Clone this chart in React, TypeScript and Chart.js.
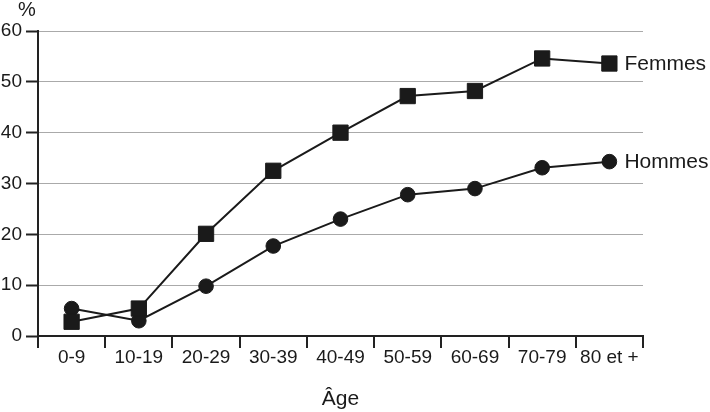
import React, { useEffect, useRef } from "react";
import { Chart, registerables } from "chart.js";

Chart.register(...registerables);

const categories = ["0-9", "10-19", "20-29", "30-39", "40-49", "50-59", "60-69", "70-79", "80 et +"];
const femmes = [2.8, 5.4, 20.1, 32.5, 40.0, 47.2, 48.2, 54.6, 53.6];
const hommes = [5.4, 3.0, 9.8, 17.7, 23.0, 27.8, 29.0, 33.1, 34.3];
const seriesNames = ["Femmes", "Hommes"];
const yUnit = "%";
const xTitle = "Âge";

const FONT = "'Liberation Sans', Arial, sans-serif";
const INK = "#1a1a1a";

const labelPlugin = {
  id: "seriesLabels",
  afterDraw(chart: any) {
    const ctx = chart.ctx;
    ctx.save();
    ctx.fillStyle = INK;
    ctx.font = `21px ${FONT}`;
    ctx.textAlign = "left";
    ctx.textBaseline = "middle";
    chart.data.datasets.forEach((ds: any, i: number) => {
      const meta = chart.getDatasetMeta(i);
      const last = meta.data[meta.data.length - 1];
      if (last) ctx.fillText(ds.label, last.x + 15, last.y + 1);
    });
    ctx.font = `20px ${FONT}`;
    ctx.textAlign = "center";
    ctx.fillText(yUnit, 27, 10);
    ctx.restore();
  },
};

export default function App() {
  const ref = useRef<HTMLCanvasElement | null>(null);
  useEffect(() => {
    if (!ref.current) return;
    const chart = new Chart(ref.current, {
      type: "line",
      data: {
        labels: categories,
        datasets: [
          {
            label: seriesNames[0],
            data: femmes,
            borderColor: INK,
            backgroundColor: INK,
            borderWidth: 2,
            pointStyle: "rect",
            pointRadius: 10.8,
            pointBorderWidth: 1,
            pointBorderColor: INK,
            pointBackgroundColor: INK,
            tension: 0,
            clip: false,
          },
          {
            label: seriesNames[1],
            data: hommes,
            borderColor: INK,
            backgroundColor: INK,
            borderWidth: 2,
            pointStyle: "circle",
            pointRadius: 7.3,
            pointBorderWidth: 1,
            pointBorderColor: INK,
            pointBackgroundColor: INK,
            tension: 0,
            clip: false,
          },
        ],
      },
      options: {
        animation: false,
        responsive: false,
        devicePixelRatio: 1,
        layout: { padding: { top: 31, right: 67, bottom: 0, left: 0 } },
        plugins: {
          legend: { display: false },
          tooltip: { enabled: false },
          title: { display: false },
        },
        scales: {
          x: {
            type: "category",
            offset: true,
            grid: {
              display: true,
              offset: true,
              drawOnChartArea: false,
              drawTicks: true,
              tickLength: 12,
              tickColor: "#222",
              tickWidth: 2,
              lineWidth: 2,
              color: "#222",
            },
            border: { display: true, color: "#222", width: 2 },
            ticks: {
              color: INK,
              font: { family: FONT, size: 19 },
              padding: -2,
              maxRotation: 0,
              autoSkip: false,
            },
            title: {
              display: true,
              text: xTitle,
              color: INK,
              font: { family: FONT, size: 21 },
              padding: { top: 0, bottom: 0 },
            },
            afterFit(scale: any) {
              scale.height = 76;
            },
          },
          y: {
            min: 0,
            max: 60,
            grid: {
              color: "#aaaaaa",
              lineWidth: 1,
              tickColor: "#222",
              tickWidth: 2,
              tickLength: 12,
              drawTicks: true,
            },
            border: { display: true, color: "#222", width: 2 },
            ticks: {
              stepSize: 10,
              color: INK,
              font: { family: FONT, size: 19 },
              padding: 4,
            },
            afterFit(scale: any) {
              scale.width = 38;
            },
          },
        },
      },
      plugins: [labelPlugin],
    });
    return () => chart.destroy();
  }, []);
  return (
    <div style={{ position: "absolute", left: 0, top: 0, width: 710, height: 412, background: "#fff" }}>
      <canvas ref={ref} width={710} height={412} style={{ width: 710, height: 412 }} />
    </div>
  );
}
